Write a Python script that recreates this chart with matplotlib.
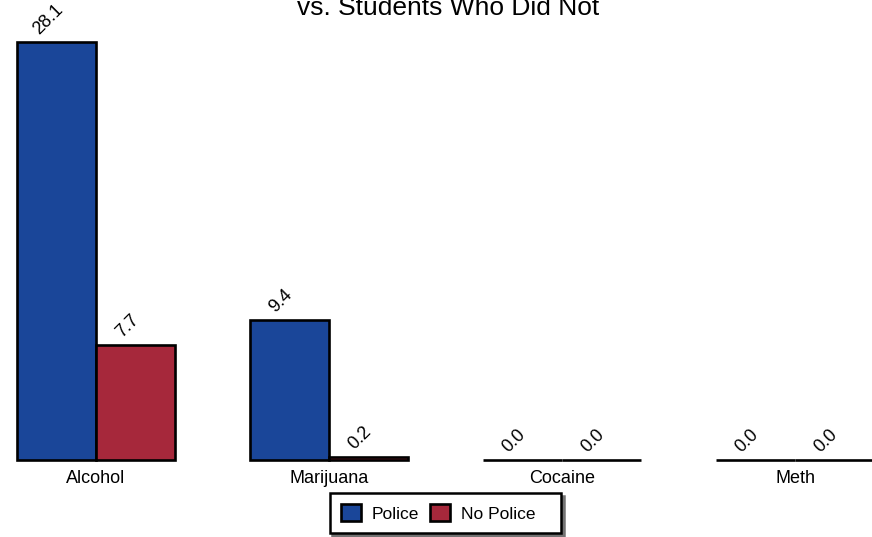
import numpy as np
import matplotlib
matplotlib.use('Agg')
import matplotlib.pyplot as plt

plt.rcParams['font.family'] = ['Liberation Sans', 'DejaVu Sans']

categories = ['Alcohol', 'Marijuana', 'Cocaine', 'Meth']
police = [28.1, 9.4, 0.0, 0.0]
no_police = [7.7, 0.2, 0.0, 0.0]
series_names = ['Police', 'No Police']
title = 'vs. Students Who Did Not'

blue = '#1a4699'
red = '#a6283b'

fig = plt.figure(figsize=(8.72, 5.37), dpi=100)
ax = fig.add_axes([0, 1 - 460 / 537, 1, 460 / 537])

x = np.arange(len(categories))
width = 0.339

bars_p = ax.bar(x - width / 2, police, width, color=blue, edgecolor='black',
                linewidth=1.9, label=series_names[0], clip_on=False)
# trailing spaces give the wider right padding seen in the legend box
bars_n = ax.bar(x + width / 2, no_police, width, color=red, edgecolor='black',
                linewidth=1.9, label=series_names[1] + '   ', clip_on=False)

# rotated value labels above each bar
for bars in (bars_p, bars_n):
    for b in bars:
        h = b.get_height()
        ax.annotate('%.1f' % h, (b.get_x() + b.get_width() / 2, h),
                    xytext=(-6, 3), textcoords='offset points',
                    ha='center', va='bottom', rotation=45, fontsize=13)

ax.set_xlim(-96 / 233, 776 / 233)
ax.set_ylim(0, 460 / 14.89)
ax.set_xticks(x)
ax.set_xticklabels(categories, fontsize=13)
ax.tick_params(axis='x', length=0, pad=7)
ax.set_yticks([])
for s in ax.spines.values():
    s.set_visible(False)

fig.text(0.514, 1 - 15 / 537, title, ha='center', va='baseline', fontsize=19)

leg = fig.legend(loc='center', bbox_to_anchor=(445.5 / 872, 1 - 513 / 537),
                 ncol=2, fontsize=12.5, frameon=True, fancybox=False,
                 shadow={'color': '0.45', 'alpha': 1},
                 handlelength=1.15, handleheight=1.15, handletextpad=0.63,
                 columnspacing=0.63, borderpad=0.65)
leg.get_frame().set_edgecolor('black')
leg.get_frame().set_linewidth(1.8)

fig.savefig('out.png', dpi=100)
